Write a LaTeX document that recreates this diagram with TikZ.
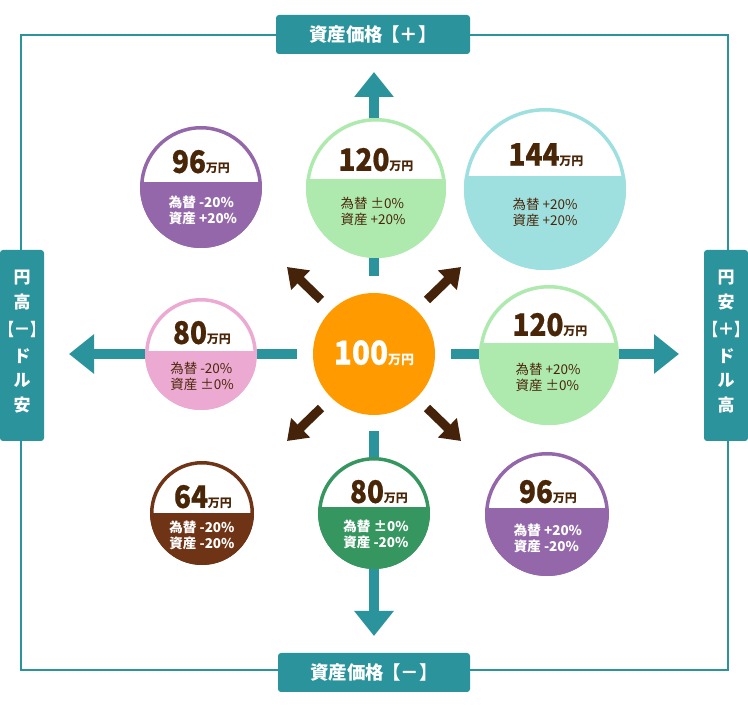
\documentclass[tikz,border=0pt]{standalone}
\usepackage{fontspec}
\usetikzlibrary{arrows.meta}
\setmainfont{Noto Sans CJK JP}
\newfontfamily\numfont[FakeStretch=0.9,FakeBold=0.6]{Noto Sans CJK JP}
\newfontfamily\narrowfont[FakeStretch=0.74,FakeBold=1.5]{Noto Sans CJK JP}
\definecolor{teal}{HTML}{2A939B}
\definecolor{cpurple}{HTML}{9467AA}
\definecolor{cgreen}{HTML}{AEE9AE}
\definecolor{ccyan}{HTML}{9EDFDF}
\definecolor{cpink}{HTML}{ECA9D1}
\definecolor{corange}{HTML}{FF9B00}
\definecolor{cbrown}{HTML}{6F3315}
\definecolor{cdgreen}{HTML}{36965F}
\definecolor{tbrown}{HTML}{4A2608}
\definecolor{abrown}{HTML}{45230A}
\newcommand{\coin}[5]{% x, y, r, split, color
  \begin{scope}
    \clip (#1,#2) circle (#3);
    \fill[white] (#1,#2) circle (#3);
    \fill[#5] (#1-#3,#4) rectangle (#1+#3,#2+#3);
  \end{scope}
  \draw[#5, line width=3.5] (#1,#2) circle (#3-1.75);
}
\newcommand{\numtxt}[1]{{\numfont\bfseries\fontsize{31}{31}\selectfont #1}{\bfseries\fontsize{12}{12}\selectfont 万円}}
\newcommand{\brk}[1]{{\narrowfont\bfseries 【}#1{\narrowfont\bfseries 】}}
\tikzset{
  lbl/.style={fill=teal, rounded corners=3pt, text=white, font=\bfseries\fontsize{18.5}{18.5}\selectfont, inner sep=0pt},
  vch/.style={text=white, font=\bfseries\fontsize{17}{17}\selectfont, inner sep=0pt},
  numnode/.style={text=tbrown, inner sep=0pt},
  linesd/.style={text=tbrown, align=left, font=\fontsize{13.5}{16}\selectfont, inner sep=0pt},
  linesw/.style={text=white, align=left, font=\bfseries\fontsize{13.5}{16}\selectfont, inner sep=0pt},
  tealarrow/.style={draw=teal, line width=10, -{Triangle[width=38,length=25]}},
  brarrow/.style={draw=abrown, line width=9, -{Triangle[width=26,length=19]}},
}
\begin{document}
\begin{tikzpicture}[x=1pt,y=-1pt]
\useasboundingbox (0,0) rectangle (748,708);
% frame
\draw[teal, line width=2.5] (21,35) rectangle (728,670);
% teal axis arrows
\coordinate (ut) at (374,276); \coordinate (uh) at (374,72);
\coordinate (dt) at (374,431); \coordinate (dh) at (374,636);
\coordinate (lt) at (297,354); \coordinate (lh) at (69,354);
\coordinate (rt) at (451,354); \coordinate (rh) at (679,354);
\draw[tealarrow] (ut) -- (uh);
\draw[tealarrow] (dt) -- (dh);
\draw[tealarrow] (lt) -- (lh);
\draw[tealarrow] (rt) -- (rh);
% brown diagonal arrows
\coordinate (a1t) at (321,300); \coordinate (a1h) at (287,267);
\coordinate (a2t) at (427,300); \coordinate (a2h) at (461,267);
\coordinate (a3t) at (321,408); \coordinate (a3h) at (287,441);
\coordinate (a4t) at (427,408); \coordinate (a4h) at (461,441);
\draw[brarrow] (a1t) -- (a1h);
\draw[brarrow] (a2t) -- (a2h);
\draw[brarrow] (a3t) -- (a3h);
\draw[brarrow] (a4t) -- (a4h);
% circles
\coin{201}{187}{61}{182}{cpurple}
\node[numnode] (n1) at (201,162) {\numtxt{96}};
\node[linesw] (t1) at (203,210) {為替 -20\%\\資産 +20\%};

\coin{376}{188}{70}{179}{cgreen}
\node[numnode] (n2) at (376,160) {\numtxt{120}};
\node[linesd] (t2) at (373,211) {為替 ±0\%\\資産 +20\%};

\coin{545}{189}{81}{176}{ccyan}
\node[numnode] (n3) at (546,155) {\numtxt{144}};
\node[linesd] (t3) at (545,212) {為替 +20\%\\資産 +20\%};

\coin{201}{354}{56}{351}{cpink}
\node[numnode] (n4) at (202,333) {\numtxt{80}};
\node[linesd] (t4) at (202,376) {為替 -20\%\\資産 ±0\%};

\fill[corange] (374,354) circle (61);
\node[text=white, inner sep=0pt] (n5) at (374,353) {{\numfont\bfseries\fontsize{33}{33}\selectfont 100}{\bfseries\fontsize{13}{13}\selectfont 万円}};

\coin{549}{355}{70}{343}{cgreen}
\node[numnode] (n6) at (550,325) {\numtxt{120}};
\node[linesd] (t6) at (548,377) {為替 +20\%\\資産 ±0\%};

\coin{202}{513}{52}{513}{cbrown}
\node[numnode] (n7) at (203,497) {\numtxt{64}};
\node[linesw] (t7) at (202,535) {為替 -20\%\\資産 -20\%};

\coin{374}{513}{56}{507}{cdgreen}
\node[numnode] (n8) at (379,492) {\numtxt{80}};
\node[linesw] (t8) at (376,534) {為替 ±0\%\\資産 -20\%};

\coin{547}{514}{62}{508}{cpurple}
\node[numnode] (n9) at (548,492) {\numtxt{96}};
\node[linesw] (t9) at (548,538) {為替 +20\%\\資産 -20\%};

% labels
\node[lbl, minimum width=194, minimum height=39] (top) at (373,34.5) {資産価格\kern-2pt【＋】};
\node[lbl, minimum width=192, minimum height=39] (bot) at (374,672.5) {資産価格\kern-2pt【－】};
\node[lbl, minimum width=44, minimum height=191] (left) at (22,345.5) {};
\node[lbl, minimum width=44, minimum height=191] (right) at (726,345.5) {};
\node[vch] (l1) at (22,278) {円};
\node[vch] (l2) at (22,302) {高};
\node[vch] (l3) at (22,329) {\brk{－}};
\node[vch] (l4) at (22,356) {ド};
\node[vch] (l5) at (22,380) {ル};
\node[vch] (l6) at (22,405) {安};
\node[vch] (r1) at (726,278) {円};
\node[vch] (r2) at (726,302) {安};
\node[vch] (r3) at (726,329) {\brk{＋}};
\node[vch] (r4) at (726,356) {ド};
\node[vch] (r5) at (726,380) {ル};
\node[vch] (r6) at (726,405) {高};
\end{tikzpicture}
\end{document}
